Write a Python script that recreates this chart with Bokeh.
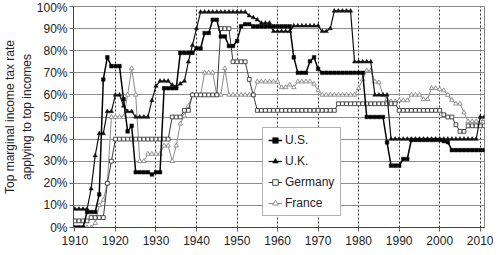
from bokeh.plotting import figure
from bokeh.models import (Legend, LegendItem, FixedTicker, PrintfTickFormatter,
                          Range1d, ColumnDataSource)
from bokeh.embed import file_html
from bokeh.resources import INLINE

years = list(range(1910, 2012))

us = [0, 0, 0, 7, 7, 7, 15, 67, 77, 73,
      73, 73, 58, 43.5, 46, 25, 25, 25, 25, 24,
      25, 25, 63, 63, 63, 63, 79, 79, 79, 79,
      81.1, 81, 88, 88, 94, 94, 86.45, 86.45, 82.13, 82.13,
      84.36, 91, 92, 92, 91, 91, 91, 91, 91, 91,
      91, 91, 91, 91, 77, 70, 70, 70, 75.25, 77,
      71.75, 70, 70, 70, 70, 70, 70, 70, 70, 70,
      70, 70, 50, 50, 50, 50, 50, 38.5, 28, 28,
      28, 31, 31, 39.6, 39.6, 39.6, 39.6, 39.6, 39.6, 39.6,
      39.6, 39.1, 38.6, 35, 35, 35, 35, 35, 35, 35,
      35, 35]

uk = [8.33, 8.33, 8.33, 8.33, 17.5, 32.5, 42.5, 42.5, 52.5, 52.5,
      60, 60, 55, 52.5, 52.5, 50, 50, 50, 50, 57.5,
      64, 66.25, 66.25, 66.25, 64.5, 63.75, 65, 66.25, 75, 82.5,
      90, 97.5, 97.5, 97.5, 97.5, 97.5, 97.5, 97.5, 97.5, 97.5,
      97.5, 97.5, 97.5, 95.8, 95, 94, 92.5, 92.5, 92.5, 88.75,
      88.75, 88.75, 88.75, 88.75, 91.25, 91.25, 91.25, 91.25, 91.25, 91.25,
      91.25, 88.75, 88.75, 90, 98, 98, 98, 98, 98, 75,
      75, 75, 75, 75, 60, 60, 60, 60, 40, 40,
      40, 40, 40, 40, 40, 40, 40, 40, 40, 40,
      40, 40, 40, 40, 40, 40, 40, 40, 40, 40,
      50, 50]

germany = [3, 3, 3, 3, 4.5, 4.5, 4.5, 4.5, 20, 30,
           40, 40, 40, 40, 40, 40, 40, 40, 40, 40,
           40, 40, 40, 40, 50, 50, 50, 53, 53, 60,
           60, 60, 60, 60, 60, 60, 90, 90, 90, 75,
           75, 75, 75, 67, 60, 53, 53, 53, 53, 53,
           53, 53, 53, 53, 53, 53, 53, 53, 53, 53,
           53, 53, 53, 53, 53, 56, 56, 56, 56, 56,
           56, 56, 56, 56, 56, 56, 56, 56, 56, 56,
           53, 53, 53, 53, 53, 53, 53, 53, 53, 53,
           53, 51, 50, 50, 46.5, 43.5, 43.5, 46, 46, 46,
           46, 46]

france = [0, 0, 0, 0, 0, 2, 10, 12.5, 20, 50,
          50, 50, 50, 60, 72, 60, 30, 30, 33.3, 33.3,
          33.3, 33.3, 37, 37, 30, 37, 47, 50.5, 55, 60,
          60, 60, 70, 70, 70, 60, 60, 72, 60, 60,
          60, 60, 60, 60, 60, 66, 66, 66, 66, 66,
          66, 63.4, 63.4, 64.6, 63.4, 66, 66, 66, 66, 65,
          62, 60, 60, 60, 60, 60, 60, 60, 60, 60,
          63, 67, 71, 71, 66, 65.6, 60, 58, 57, 57,
          57.5, 57.5, 57.5, 60, 60, 60, 58, 58, 63, 63,
          62.5, 62, 59.9, 57.7, 56, 56, 52, 48, 48, 48,
          48, 49]

x_ticks = list(range(1910, 2011, 10))
x_grid = list(range(1920, 2011, 10))
y_ticks = list(range(0, 101, 10))

FONT = "Liberation Sans"

src = ColumnDataSource(dict(year=years, us=us, uk=uk, germany=germany, france=france))

p = figure(width=493, height=247, output_backend="svg", toolbar_location=None,
           x_range=Range1d(1909.65, 2011.05), y_range=Range1d(0, 100),
           min_border_left=0, min_border_right=9, min_border_top=6, min_border_bottom=0)
p.background_fill_color = "white"
p.border_fill_color = "white"
p.outline_line_color = "#888888"
p.outline_line_width = 1

# grids
p.xgrid.ticker = FixedTicker(ticks=x_grid)
p.xgrid.grid_line_color = "#333333"
p.xgrid.grid_line_dash = "2 2"
p.xgrid.grid_line_width = 1
p.ygrid.ticker = FixedTicker(ticks=y_ticks)
p.ygrid.grid_line_color = "#8c8c8c"
p.ygrid.grid_line_width = 1

# axes
p.xaxis.ticker = FixedTicker(ticks=x_ticks)
p.yaxis.ticker = FixedTicker(ticks=y_ticks)
p.yaxis.formatter = PrintfTickFormatter(format="%d%%")
for ax in (p.xaxis[0], p.yaxis[0]):
    ax.axis_line_color = "#444444"
    ax.major_tick_line_color = "#666666"
    ax.major_tick_out = 4
    ax.major_tick_in = 0
    ax.minor_tick_out = 0
    ax.minor_tick_in = 0
    ax.major_label_text_font = FONT
    ax.major_label_text_font_size = "12px"
    ax.major_label_text_color = "#222222"
p.xaxis.major_label_standoff = 4
p.yaxis.major_label_standoff = 2
p.yaxis.axis_label = "Top marginal income tax rate\napplying to top incomes"
p.yaxis.axis_label_text_font = FONT
p.yaxis.axis_label_text_font_size = "12px"
p.yaxis.axis_label_text_font_style = "normal"
p.yaxis.axis_label_text_color = "#222222"
p.yaxis.axis_label_standoff = 0

# series
fr_line = p.line("year", "france", source=src, line_color="#8a8a8a", line_width=1)
fr_pts = p.scatter("year", "france", source=src, marker="triangle", size=4.5,
                   fill_color="white", line_color="#8a8a8a", line_width=0.9)
de_line = p.line("year", "germany", source=src, line_color="#3a3a3a", line_width=1)
de_pts = p.scatter("year", "germany", source=src, marker="square", size=3.8,
                   fill_color="white", line_color="#3a3a3a", line_width=0.9)
uk_line = p.line("year", "uk", source=src, line_color="#111111", line_width=1.2)
uk_pts = p.scatter("year", "uk", source=src, marker="triangle", size=4.3,
                   fill_color="#111111", line_color="#111111", line_width=0.5)
us_line = p.line("year", "us", source=src, line_color="#000000", line_width=1.5)
us_pts = p.scatter("year", "us", source=src, marker="square", size=3.6,
                   fill_color="#000000", line_color="#000000", line_width=0.5)

legend = Legend(items=[
    LegendItem(label="U.S.", renderers=[us_line, us_pts]),
    LegendItem(label="U.K.", renderers=[uk_line, uk_pts]),
    LegendItem(label="Germany", renderers=[de_line, de_pts]),
    LegendItem(label="France", renderers=[fr_line, fr_pts]),
], location=(189, 11))
legend.border_line_color = "#666666"
legend.border_line_width = 1
legend.background_fill_color = "white"
legend.background_fill_alpha = 1
legend.padding = 5
legend.spacing = 7
legend.margin = 0
legend.glyph_width = 14
legend.glyph_height = 14
legend.label_height = 14
legend.label_width = 50
legend.label_standoff = 3
legend.label_text_font = FONT
legend.label_text_font_size = "12px"
legend.label_text_color = "#222222"
p.add_layout(legend)

open("out.html", "w").write(file_html(p, INLINE))
